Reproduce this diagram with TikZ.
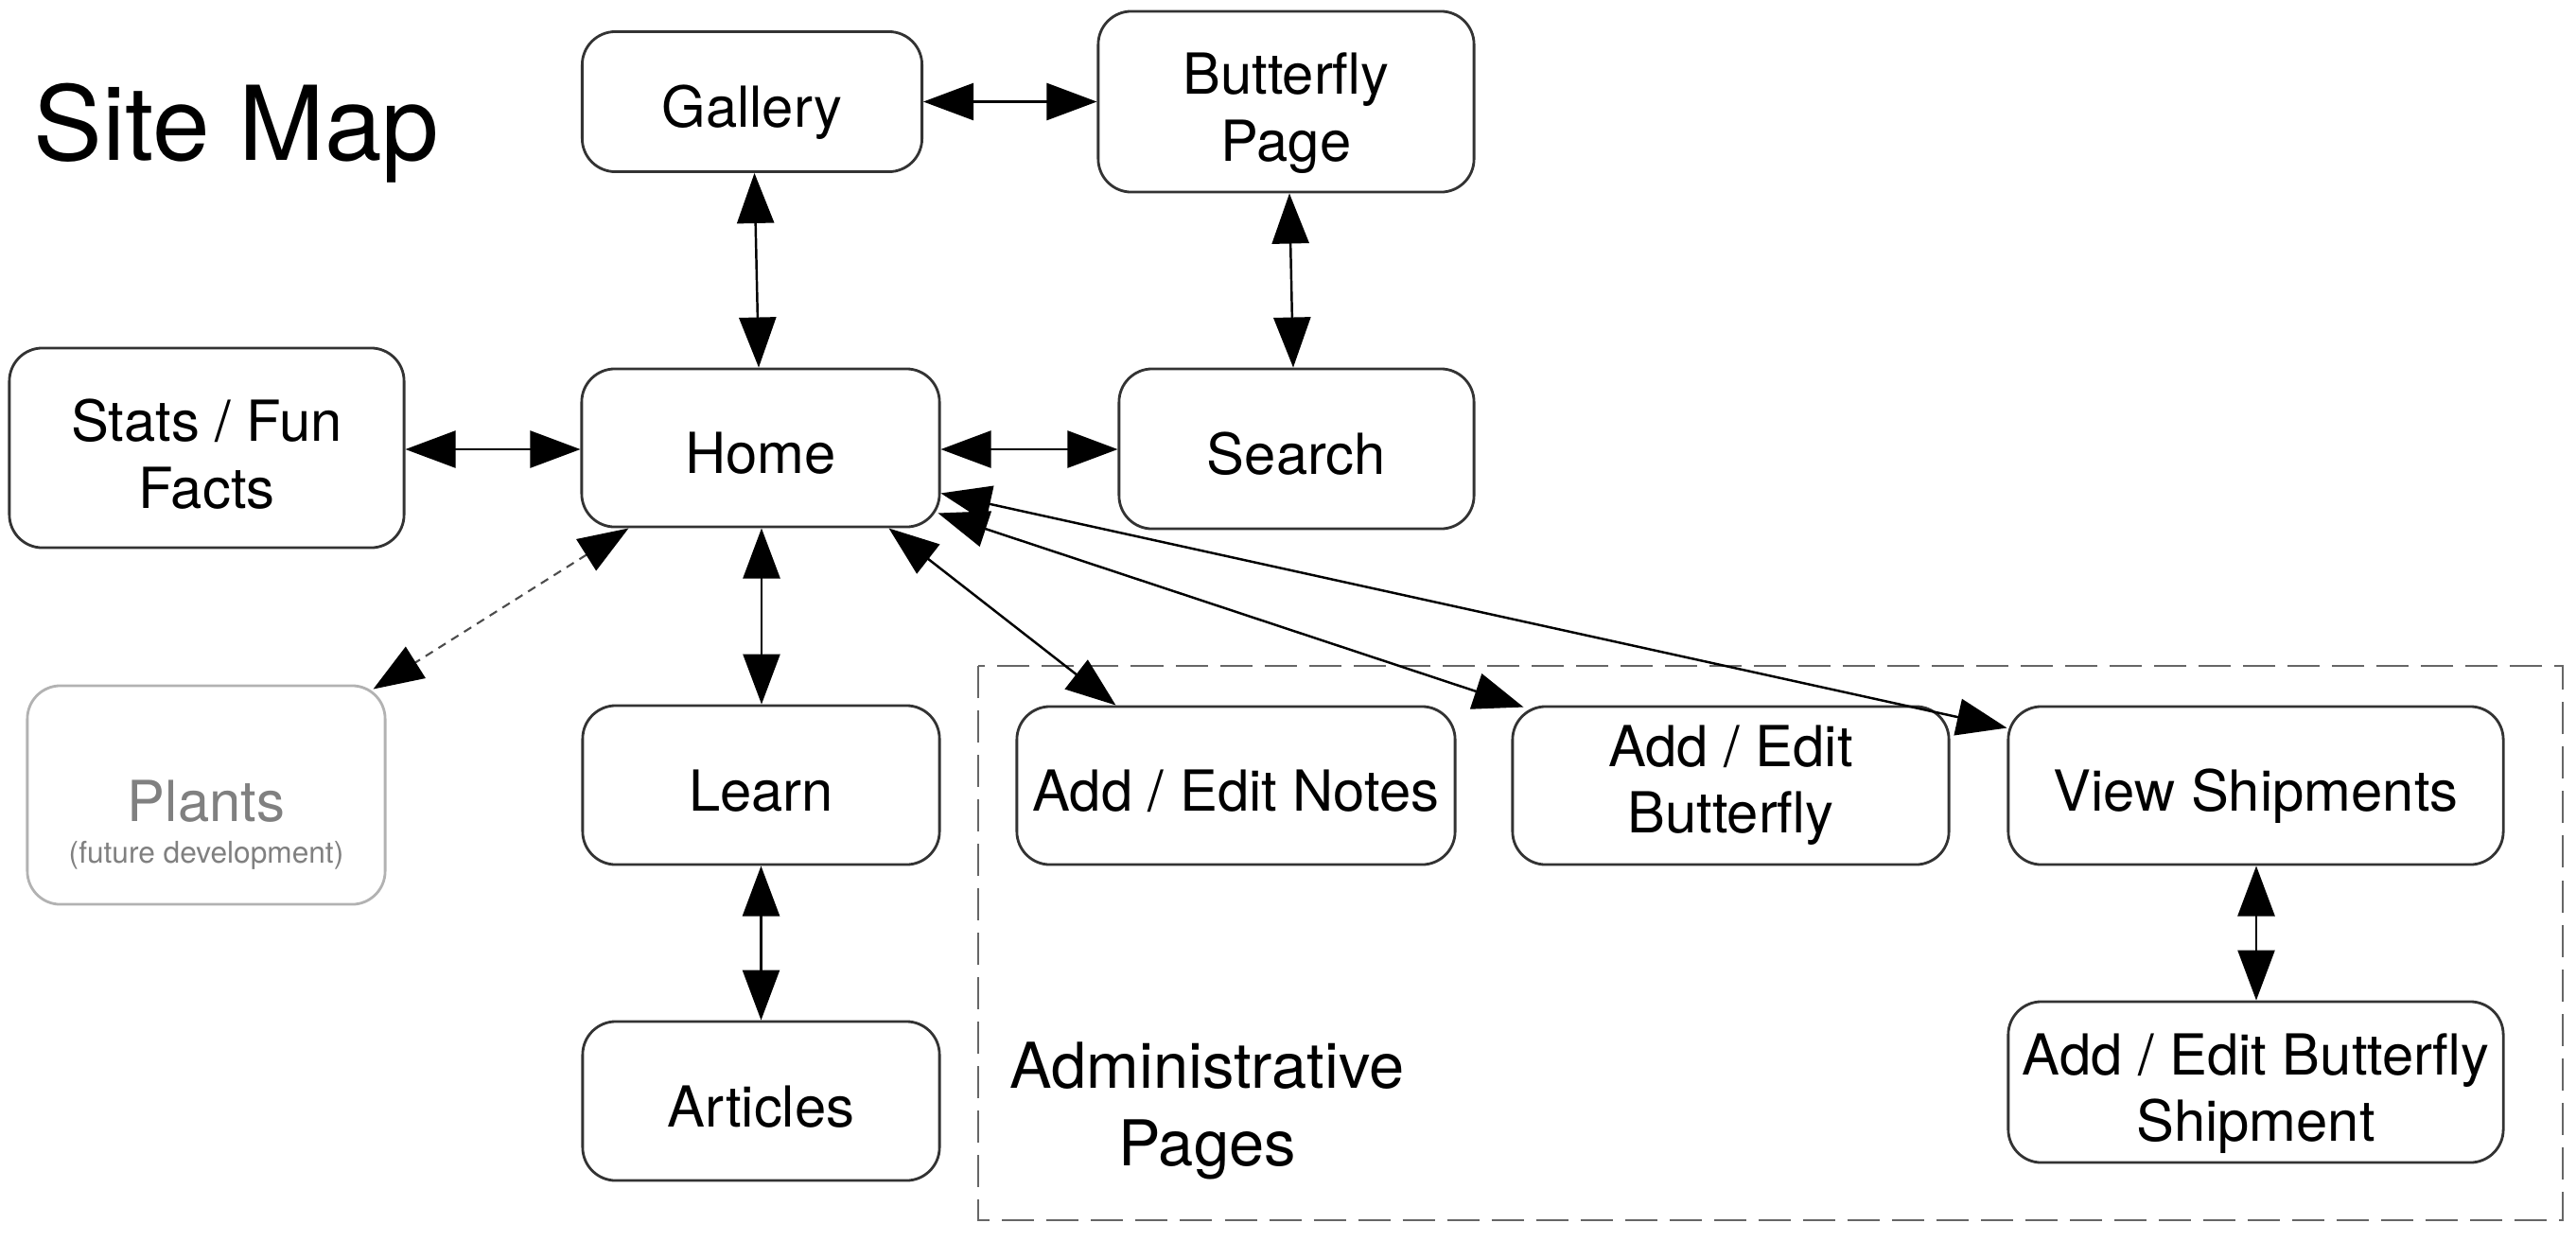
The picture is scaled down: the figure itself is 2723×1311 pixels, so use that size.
\documentclass[tikz,border=0pt]{standalone}
\usepackage{fontspec}
\setmainfont{TeX Gyre Heros}
\usetikzlibrary{arrows.meta,calc}
\begin{document}
\begin{tikzpicture}[x=0.01cm,y=-0.01cm,
  box/.style={draw=black!80, line width=0.8pt, rounded corners=0.35cm, align=center, inner sep=0pt,
    font=\fontsize{17}{20}\selectfont},
  one/.style={text height=17.5pt, text depth=1.9pt},
  tip/.tip={Triangle[length=5.3mm,width=3.9mm]},
  btip/.tip={Triangle[length=5.3mm,width=3.9mm,color=black,fill=black]},
  link/.style={line width=0.7pt, draw=black, tip-tip},
  dlink/.style={line width=0.6pt, draw=black!70, dash pattern=on 0.09cm off 0.07cm, btip-btip}]
\useasboundingbox (0,0) rectangle (2723,1311);

\node[anchor=base west, inner sep=0pt, font=\fontsize{31}{36}\selectfont] (title) at (35,169) {Site Map};

\node[box, one, minimum width=3.59cm, minimum height=1.48cm] (gallery) at (795,107.5) {Gallery};
\node[box, minimum width=3.97cm, minimum height=1.91cm] (bpage) at (1359.5,107.5) {\rule{0pt}{19.3pt}Butterfly\\Page};
\node[box, minimum width=4.17cm, minimum height=2.11cm] (stats) at (218.5,473.5) {\rule{0pt}{16.5pt}Stats / Fun\\Facts};
\node[box, one, minimum width=3.78cm, minimum height=1.67cm] (home) at (804,473.5) {Home};
\node[box, one, minimum width=3.75cm, minimum height=1.69cm] (search) at (1370.5,474.5) {Search};
\node[box, draw=black!30, minimum width=3.78cm, minimum height=2.31cm] (plants) at (218,840.5) {};
\node[align=center, inner sep=0pt, text=black!50, font=\fontsize{17}{20}\selectfont] (plantstext) at (218,872)
  {Plants\\[-7.5pt]{\fontsize{9}{10}\selectfont (future development)}};
\node[box, one, minimum width=3.77cm, minimum height=1.68cm] (learn) at (804.5,830) {Learn};
\node[box, one, minimum width=3.77cm, minimum height=1.68cm] (articles) at (804.5,1164) {Articles};

\draw[draw=black!60, line width=0.8pt, dash pattern=on 0.34cm off 0.13cm] (1034,704) rectangle (2709,1290);
\node[align=center, inner sep=0pt, font=\fontsize{19}{23.3}\selectfont] (admin) at (1276,1174) {Administrative\\Pages};

\node[box, one, minimum width=4.63cm, minimum height=1.67cm] (notes) at (1306.5,830.5) {Add / Edit Notes};
\node[box, minimum width=4.61cm, minimum height=1.67cm] (aeb) at (1829.5,830.5) {Add / Edit\\Butterfly};
\node[box, one, minimum width=5.23cm, minimum height=1.67cm] (vs) at (2384.5,830.5) {View Shipments};
\node[box, minimum width=5.23cm, minimum height=1.70cm] (aebs) at (2384.5,1144) {\rule{0pt}{19.3pt}Add / Edit Butterfly\\Shipment};

\draw[link] ($(gallery.south)+(2.5,0)$) -- ($(home.north)+(-2,0)$);
\draw[link] (gallery.east) -- (bpage.west);
\draw[link] ($(bpage.south)+(3.5,0)$) -- ($(search.north)+(-3.5,0)$);
\draw[link] ($(stats.east)+(0,1.5)$) -- ($(home.west)+(0,1.5)$);
\draw[link] ($(home.east)+(0,1.5)$) -- ($(search.west)+(0,0.5)$);
\draw[link] ($(home.south)+(1,0)$) -- ($(learn.north)+(0.5,0)$);
\draw[link] (learn.south) -- (articles.north);
\draw[link] ($(vs.south)+(0.5,0)$) -- ($(aebs.north)+(0.5,0)$);
\draw[link] ($(home.south east)+(-55,0)$) -- ($(notes.north west)+(106,0)$);
\draw[link] ($(home.south east)+(-3,-16)$) -- ($(aeb.north west)+(13,2)$);
\draw[link] ($(home.south east)+(0,-37)$) -- ($(vs.north west)+(0,24)$);
\draw[dlink] ($(home.south west)+(51,0)$) -- ($(plants.north east)+(-14,5)$);
\end{tikzpicture}
\end{document}
